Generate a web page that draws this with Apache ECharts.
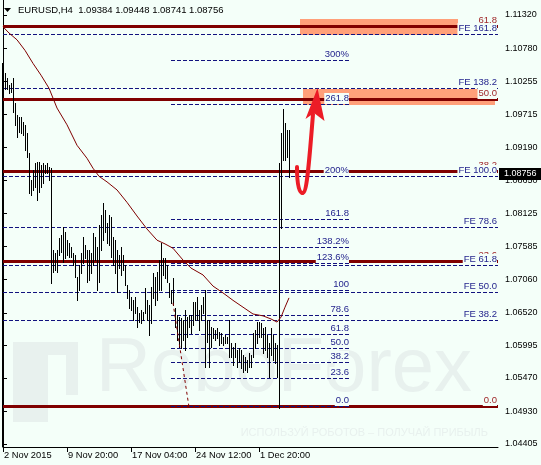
<!DOCTYPE html>
<html><head><meta charset="utf-8">
<script src="https://cdn.jsdelivr.net/npm/echarts@6.0.0/dist/echarts.min.js"></script>
<style>html,body{margin:0;padding:0;background:#F4FFF9;} #c{width:541px;height:465px;}</style>
</head><body><div id="c"></div>
<script>
// ---------- data ----------
const barHigh = [
1.1053,1.1038,1.1030,1.1019,1.1022,1.1030,1.0990,1.0971,1.0968,1.0968,
1.0959,1.0955,1.0942,1.0910,1.0866,1.0882,1.0893,1.0895,1.0895,1.0890,
1.0893,1.0890,1.0893,1.0887,1.0885,1.0753,1.0748,1.0753,1.0772,1.0777,
1.0790,1.0782,1.0769,1.0764,1.0758,1.0748,1.0745,1.0710,1.0729,1.0748,
1.0774,1.0761,1.0753,1.0753,1.0748,1.0780,1.0774,1.0758,1.0793,1.0809,
1.0829,1.0817,1.0796,1.0809,1.0806,1.0774,1.0769,1.0753,1.0745,1.0758,
1.0745,1.0729,1.0697,1.0689,1.0677,1.0672,1.0677,1.0661,1.0651,1.0656,
1.0653,1.0692,1.0672,1.0664,1.0693,1.0716,1.0710,1.0718,1.0737,1.0764,
1.0740,1.0740,1.0729,1.0700,1.0689,1.0708,1.0659,1.0648,1.0645,1.0643,
1.0640,1.0656,1.0645,1.0648,1.0648,1.0669,1.0669,1.0677,1.0656,1.0664,
1.0677,1.0689,1.0640,1.0640,1.0629,1.0627,1.0624,1.0627,1.0621,1.0619,
1.0613,1.0616,1.0613,1.0640,1.0603,1.0597,1.0603,1.0592,1.0595,1.0592,
1.0584,1.0581,1.0576,1.0587,1.0584,1.0619,1.0624,1.0637,1.0637,1.0635,
1.0627,1.0629,1.0616,1.0603,1.0627,1.0616,1.0603,1.0600,1.0893,1.0942,
1.0980,1.0958,1.0946,1.0946];
const barLow = [
1.1014,1.1013,1.1013,1.1006,1.1008,1.0976,1.0955,1.0935,1.0943,1.0942,
1.0938,1.0914,1.0903,1.0845,1.0842,1.0850,1.0855,1.0834,1.0847,1.0855,
1.0861,1.0877,1.0877,1.0866,1.0700,1.0718,1.0721,1.0718,1.0745,1.0750,
1.0734,1.0740,1.0745,1.0742,1.0742,1.0729,1.0710,1.0672,1.0689,1.0716,
1.0732,1.0740,1.0702,1.0705,1.0716,1.0729,1.0737,1.0689,1.0702,1.0753,
1.0769,1.0782,1.0764,1.0761,1.0742,1.0729,1.0716,1.0685,1.0724,1.0713,
1.0721,1.0697,1.0676,1.0659,1.0656,1.0640,1.0651,1.0629,1.0637,1.0635,
1.0640,1.0651,1.0640,1.0616,1.0635,1.0676,1.0664,1.0672,1.0689,1.0689,
1.0713,1.0708,1.0702,1.0677,1.0667,1.0664,1.0629,1.0608,1.0597,1.0595,
1.0608,1.0592,1.0613,1.0629,1.0619,1.0632,1.0640,1.0640,1.0624,1.0640,
1.0651,1.0564,1.0605,1.0564,1.0597,1.0611,1.0608,1.0611,1.0600,1.0603,
1.0600,1.0603,1.0603,1.0581,1.0581,1.0568,1.0581,1.0564,1.0572,1.0563,
1.0556,1.0560,1.0556,1.0564,1.0564,1.0581,1.0595,1.0603,1.0613,1.0613,
1.0587,1.0592,1.0581,1.0548,1.0584,1.0576,1.0571,1.0548,1.0498,1.0788,
1.0898,1.0898,1.0903,1.0871];

const maIndex = [0,3,7,11,15,19,23,27,32,37,42,45,48,52,57,62,67,72,77,81,85,90,94,100,105,110,115,120,125,130,134,137,139,141,143];
const maValue = [1.1113,1.1103,1.1092,1.1075,1.1054,1.1035,1.1014,1.0982,1.0955,1.0922,1.0901,1.0885,1.0872,1.0863,1.0850,1.0830,1.0808,1.0787,1.0769,1.0763,1.0756,1.0737,1.0724,1.0713,1.0695,1.0684,1.0672,1.0661,1.0650,1.0647,1.0642,1.0637,1.0645,1.0661,1.0676];

const trendIndex = [85, 93];
const trendValue = [1.0668, 1.0500];

const retLevels = [1.1114, 1.0997, 1.0880, 1.0735, 1.0502];
const retLabels = ['61.8', '50.0', '38.2', '23.6', '0.0'];
const feLevels = [1.1102, 1.1014, 1.0872, 1.0791, 1.0729, 1.0685, 1.0641];
const feLabels = ['FE 161.8', 'FE 138.2', 'FE 100.0', 'FE 78.6', 'FE 61.8', 'FE 50.0', 'FE 38.2'];
const expLevels = [1.1059, 1.0988, 1.0873, 1.0803, 1.0758, 1.0733, 1.0689, 1.0648, 1.0618, 1.0595, 1.0572, 1.0547, 1.0502];
const expLabels = ['300%', '261.8', '200%', '161.8', '138.2%', '123.6%', '100', '78.6', '61.8', '50.0', '38.2', '23.6', '0.0'];

const zoneStart = [148.5, 150];
const zoneEnd = [227.5, 246];
const zoneTop = [1.1125, 1.1013];
const zoneBottom = [1.1100, 1.0987];

const yTicks = [1.11320, 1.10780, 1.10255, 1.09715, 1.09190, 1.08650, 1.08125, 1.07585, 1.07060, 1.06520, 1.05995, 1.05470, 1.04930, 1.04405];
const xTickPos = [0, 32, 64, 96, 128];
const xTickLabels = ['2 Nov 2015', '9 Nov 20:00', '17 Nov 04:00', '24 Nov 12:00', '1 Dec 20:00'];
const lastClose = 1.08756;
const titleText = 'EURUSD,H4  1.09384 1.09448 1.08741 1.08756';

// ---------- styling ----------
const BG = '#F4FFF9';
const FONT = '"Liberation Sans", Arial, sans-serif';
const RED = '#800000';
const NAVY = '#12127F';
const LABNAVY = '#1E1E8A';
const LABRED = '#A0282A';
const X_MIN = 0, X_MAX = 247.5;
const Y_MIN = 1.04356, Y_MAX = 1.11562;
const FE_START = 0, FE_END = 247, RET_END = 247.5, EXP_START = 84, EXP_END = 173;

const levelRows = [];
retLevels.forEach(p => levelRows.push([0, RET_END, p, 0]));
feLevels.forEach(p => levelRows.push([FE_START, RET_END, p, 1]));
expLevels.forEach(p => levelRows.push([EXP_START, EXP_END, p, 1]));

const labelSets = [retLabels, feLabels, expLabels];
const redLabelRows = retLevels.map((p, k) => [FE_END, p, k, 0]);
const navyLabelRows = feLevels.map((p, k) => [FE_END, p, k, 1]).concat(expLevels.map((p, k) => [EXP_END, p, k, 2]));

const barRows = barHigh.map((h, i) => [i, barLow[i], h]);
const zoneRows = zoneStart.map((s, k) => [s, zoneEnd[k], zoneTop[k], zoneBottom[k]]);

function renderZone(params, api) {
  const a = api.coord([api.value(0), api.value(2)]);
  const b = api.coord([api.value(1), api.value(3)]);
  return {type: 'rect', shape: {x: Math.round(a[0]), y: Math.round(a[1]), width: Math.round(b[0] - a[0]), height: Math.round(b[1] - a[1])},
          style: {fill: '#FFA07A'}};
}
function renderLevel(params, api) {
  const kind = api.value(3);
  const a = api.coord([api.value(0), api.value(2)]);
  const b = api.coord([api.value(1), api.value(2)]);
  const y = Math.round(a[1]) + 0.5;
  if (kind === 0) {
    return {type: 'line', shape: {x1: a[0], y1: y, x2: b[0], y2: y}, style: {stroke: RED, lineWidth: 3}};
  }
  return {type: 'line', shape: {x1: a[0], y1: y, x2: b[0], y2: y}, style: {stroke: NAVY, lineWidth: 1, lineDash: [4, 2]}};
}
function renderBar(params, api) {
  const lo = api.coord([api.value(0), api.value(1)]);
  const hi = api.coord([api.value(0), api.value(2)]);
  const x = Math.round(lo[0]) + 0.5;
  return {type: 'line', shape: {x1: x, y1: Math.round(lo[1]) + 1, x2: x, y2: Math.round(hi[1])}, style: {stroke: '#000', lineWidth: 1}};
}
function makeLabelRenderer(color) {
  return function (params, api) {
    const pt = api.coord([api.value(0), api.value(1)]);
    const txt = labelSets[api.value(3)][api.value(2)];
    return {type: 'text', x: Math.round(pt[0]), y: Math.round(pt[1]),
      style: {text: txt, fill: color, fontSize: 9.5, fontFamily: FONT,
              align: 'right', verticalAlign: 'bottom', textAlign: 'right', textVerticalAlign: 'bottom',
              backgroundColor: BG, padding: [0, 0, 0, 1], lineHeight: 11}};
  };
}

const chart = echarts.init(document.getElementById('c'), null, {renderer: 'canvas'});
chart.setOption({
  animation: false,
  backgroundColor: BG,
  grid: {left: 3, right: 43, top: 0, bottom: 18, containLabel: false},
  xAxis: {
    type: 'value', min: X_MIN, max: X_MAX, position: 'bottom',
    axisLine: {show: true, lineStyle: {color: '#000', width: 1}},
    axisTick: {show: true, customValues: xTickPos, length: 5, lineStyle: {color: '#000'}},
    axisLabel: {show: true, customValues: xTickPos, formatter: v => xTickLabels[xTickPos.indexOf(v)] || '',
      align: 'left', padding: [0, 0, 0, 1], margin: 4, fontSize: 9.3, fontFamily: FONT, color: '#000'},
    splitLine: {show: false}
  },
  yAxis: {
    type: 'value', min: Y_MIN, max: Y_MAX, position: 'right', scale: true,
    axisLine: {show: true, lineStyle: {color: '#000', width: 1}},
    axisTick: {show: true, customValues: yTicks, length: 4, inside: false, lineStyle: {color: '#000'}},
    axisLabel: {show: true, customValues: yTicks, formatter: v => v.toFixed(5), margin: 7,
      fontSize: 9, fontFamily: FONT, color: '#000'},
    splitLine: {show: false}
  },
  series: [
    {type: 'custom', name: 'zones', data: zoneRows, renderItem: renderZone, encode: {x: [0, 1], y: [2, 3]}, z: 1, silent: true},
    {type: 'custom', name: 'levels', data: levelRows, renderItem: renderLevel, encode: {x: [0, 1], y: 2}, z: 2, silent: true},
    {type: 'custom', name: 'bars', data: barRows, renderItem: renderBar, encode: {x: 0, y: [1, 2]}, z: 3, silent: true},
    {type: 'line', name: 'MA', data: maIndex.map((i, k) => [i, maValue[k]]), showSymbol: false, symbol: 'none',
      lineStyle: {color: RED, width: 1}, z: 4, silent: true},
    {type: 'line', name: 'trend', data: trendIndex.map((i, k) => [i, trendValue[k]]), showSymbol: false, symbol: 'none',
      lineStyle: {color: RED, width: 1, type: [3, 3]}, z: 4, silent: true},
    {type: 'custom', name: 'retLabels', data: redLabelRows, renderItem: makeLabelRenderer(LABRED), encode: {x: 0, y: 1}, z: 5, clip: false, silent: true},
    {type: 'custom', name: 'navyLabels', data: navyLabelRows, renderItem: makeLabelRenderer(LABNAVY), encode: {x: 0, y: 1}, z: 6, clip: false, silent: true}
  ]
});

const py = Math.round(chart.convertToPixel({yAxisIndex: 0}, lastClose));
const WM = '#E8F1EE';
const ARROW = '#EC1C26';
chart.setOption({
  graphic: [
    {type: 'rect', z: 0, shape: {x: 13, y: 342, width: 35, height: 80}, style: {fill: WM}},
    {type: 'rect', z: 0, shape: {x: 48, y: 342, width: 30, height: 13}, style: {fill: WM}},
    {type: 'rect', z: 0, shape: {x: 66, y: 355, width: 12, height: 40}, style: {fill: WM}},
    {type: 'text', z: 0, x: 96, y: 408, style: {text: 'RoboForex', fill: WM, fontSize: 76, fontFamily: FONT,
      align: 'left', verticalAlign: 'bottom', textAlign: 'left', textVerticalAlign: 'bottom'}},
    {type: 'text', z: 0, x: 488, y: 433, style: {text: 'ИСПОЛЬЗУЙ РОБОТОВ – ПОЛУЧАЙ ПРИБЫЛЬ', fill: WM, fontSize: 11, fontFamily: FONT,
      align: 'right', verticalAlign: 'middle', textAlign: 'right', textVerticalAlign: 'middle'}},
    {type: 'line', z: 5, shape: {x1: 2.5, y1: 63, x2: 2.5, y2: 447}, style: {stroke: '#000', lineWidth: 1}},
    {type: 'polygon', z: 10, shape: {points: [[4, 8], [11, 8], [7.5, 12]]}, style: {fill: '#000'}},
    {type: 'text', z: 10, x: 18, y: 10, style: {text: titleText, fill: '#000', fontSize: 9.5, fontFamily: FONT,
      align: 'left', verticalAlign: 'middle', textAlign: 'left', textVerticalAlign: 'middle'}},
    {type: 'bezierCurve', z: 10, shape: {x1: 297, y1: 167, cpx1: 297, cpy1: 185, cpx2: 299, cpy2: 193, x2: 302.5, y2: 193},
      style: {stroke: ARROW, lineWidth: 4, fill: null, lineCap: 'round'}},
    {type: 'bezierCurve', z: 10, shape: {x1: 302.5, y1: 193, cpx1: 306.5, cpy1: 193, cpx2: 308.5, cpy2: 172, x2: 313, y2: 114},
      style: {stroke: ARROW, lineWidth: 4, fill: null, lineCap: 'round'}},
    {type: 'polygon', z: 10, shape: {points: [[317.5, 88], [324.5, 121], [314, 113], [305.5, 119]]}, style: {fill: ARROW}},
    {type: 'rect', z: 10, shape: {x: 499, y: py - 6, width: 42, height: 12}, style: {fill: '#000'}},
    {type: 'text', z: 11, x: 504, y: py, style: {text: lastClose.toFixed(5), fill: '#fff', fontSize: 9, fontFamily: FONT,
      align: 'left', verticalAlign: 'middle', textAlign: 'left', textVerticalAlign: 'middle'}}
  ]
});
</script></body></html>
